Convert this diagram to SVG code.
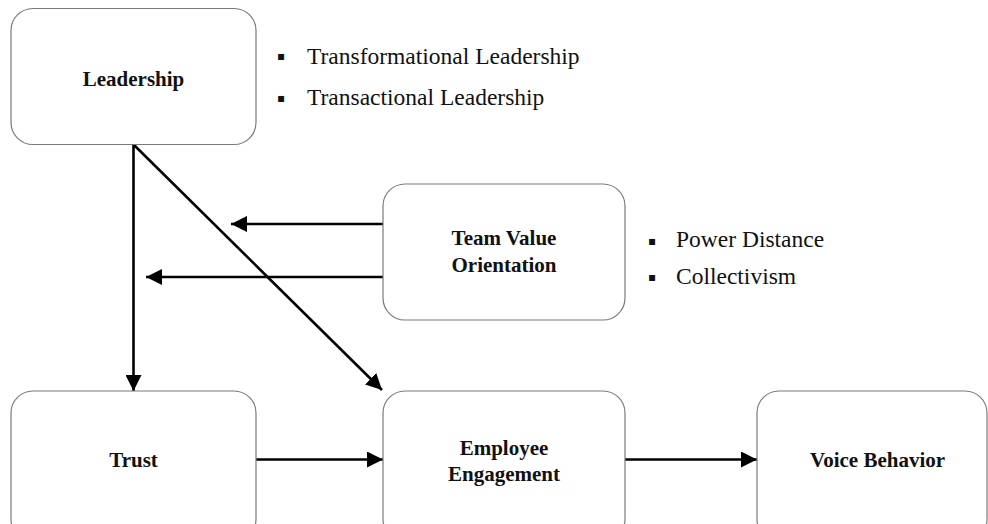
<svg xmlns="http://www.w3.org/2000/svg" width="988" height="524" viewBox="0 0 988 524">
  <style>
    .box { fill: #ffffff; stroke: #7a7a7a; stroke-width: 1.2; }
    .label { font-family: "Liberation Serif", "Times New Roman", serif; font-weight: bold; font-size: 21px; fill: #111111; text-anchor: middle; }
    .note { font-family: "Liberation Serif", "Times New Roman", serif; font-size: 23.5px; fill: #111111; }
    .bullet { font-family: "DejaVu Sans", sans-serif; font-size: 12px; fill: #111111; text-anchor: middle; }
    .edge { stroke: #000000; stroke-width: 2.6; fill: none; marker-end: url(#head); }
  </style>
  <defs>
    <marker id="head" markerUnits="userSpaceOnUse" markerWidth="16" markerHeight="16" refX="16" refY="8" orient="auto">
      <path d="M0,0 L16,8 L0,16 Z" fill="#000000"/>
    </marker>
  </defs>

  <rect width="988" height="524" fill="#ffffff"/>

  <!-- connectors -->
  <g id="connectors">
    <line class="edge" x1="133.5" y1="145" x2="133.5" y2="391"/>
    <line class="edge" x1="134" y1="145" x2="382" y2="390"/>
    <line class="edge" x1="383" y1="224" x2="231" y2="224"/>
    <line class="edge" x1="383" y1="277" x2="146" y2="277"/>
    <line class="edge" x1="256" y1="459.5" x2="383" y2="459.5"/>
    <line class="edge" x1="625" y1="459.5" x2="757" y2="459.5"/>
  </g>

  <!-- nodes -->
  <g id="leadership">
    <rect class="box" x="11" y="8.5" width="245" height="136" rx="22" ry="22"/>
    <text class="label" x="133.5" y="86">Leadership</text>
  </g>

  <g id="leadership-types">
    <text class="bullet" x="281" y="60">▪</text>
    <text class="note" x="307" y="63.5">Transformational Leadership</text>
    <text class="bullet" x="281" y="102">▪</text>
    <text class="note" x="307" y="105">Transactional Leadership</text>
  </g>

  <g id="team-value-orientation">
    <rect class="box" x="383" y="184" width="242" height="136" rx="22" ry="22"/>
    <text class="label" x="504" y="245">Team Value</text>
    <text class="label" x="504" y="272">Orientation</text>
  </g>

  <g id="value-dimensions">
    <text class="bullet" x="652" y="245">▪</text>
    <text class="note" x="676" y="247">Power Distance</text>
    <text class="bullet" x="652" y="281">▪</text>
    <text class="note" x="676" y="283.5">Collectivism</text>
  </g>

  <g id="trust">
    <rect class="box" x="11" y="391" width="245" height="150" rx="22" ry="22"/>
    <text class="label" x="133.5" y="467">Trust</text>
  </g>

  <g id="employee-engagement">
    <rect class="box" x="383" y="391" width="242" height="150" rx="22" ry="22"/>
    <text class="label" x="504" y="455">Employee</text>
    <text class="label" x="504" y="480.5">Engagement</text>
  </g>

  <g id="voice-behavior">
    <rect class="box" x="757" y="391" width="230" height="150" rx="22" ry="22"/>
    <text class="label" x="877.5" y="467">Voice Behavior</text>
  </g>
</svg>
